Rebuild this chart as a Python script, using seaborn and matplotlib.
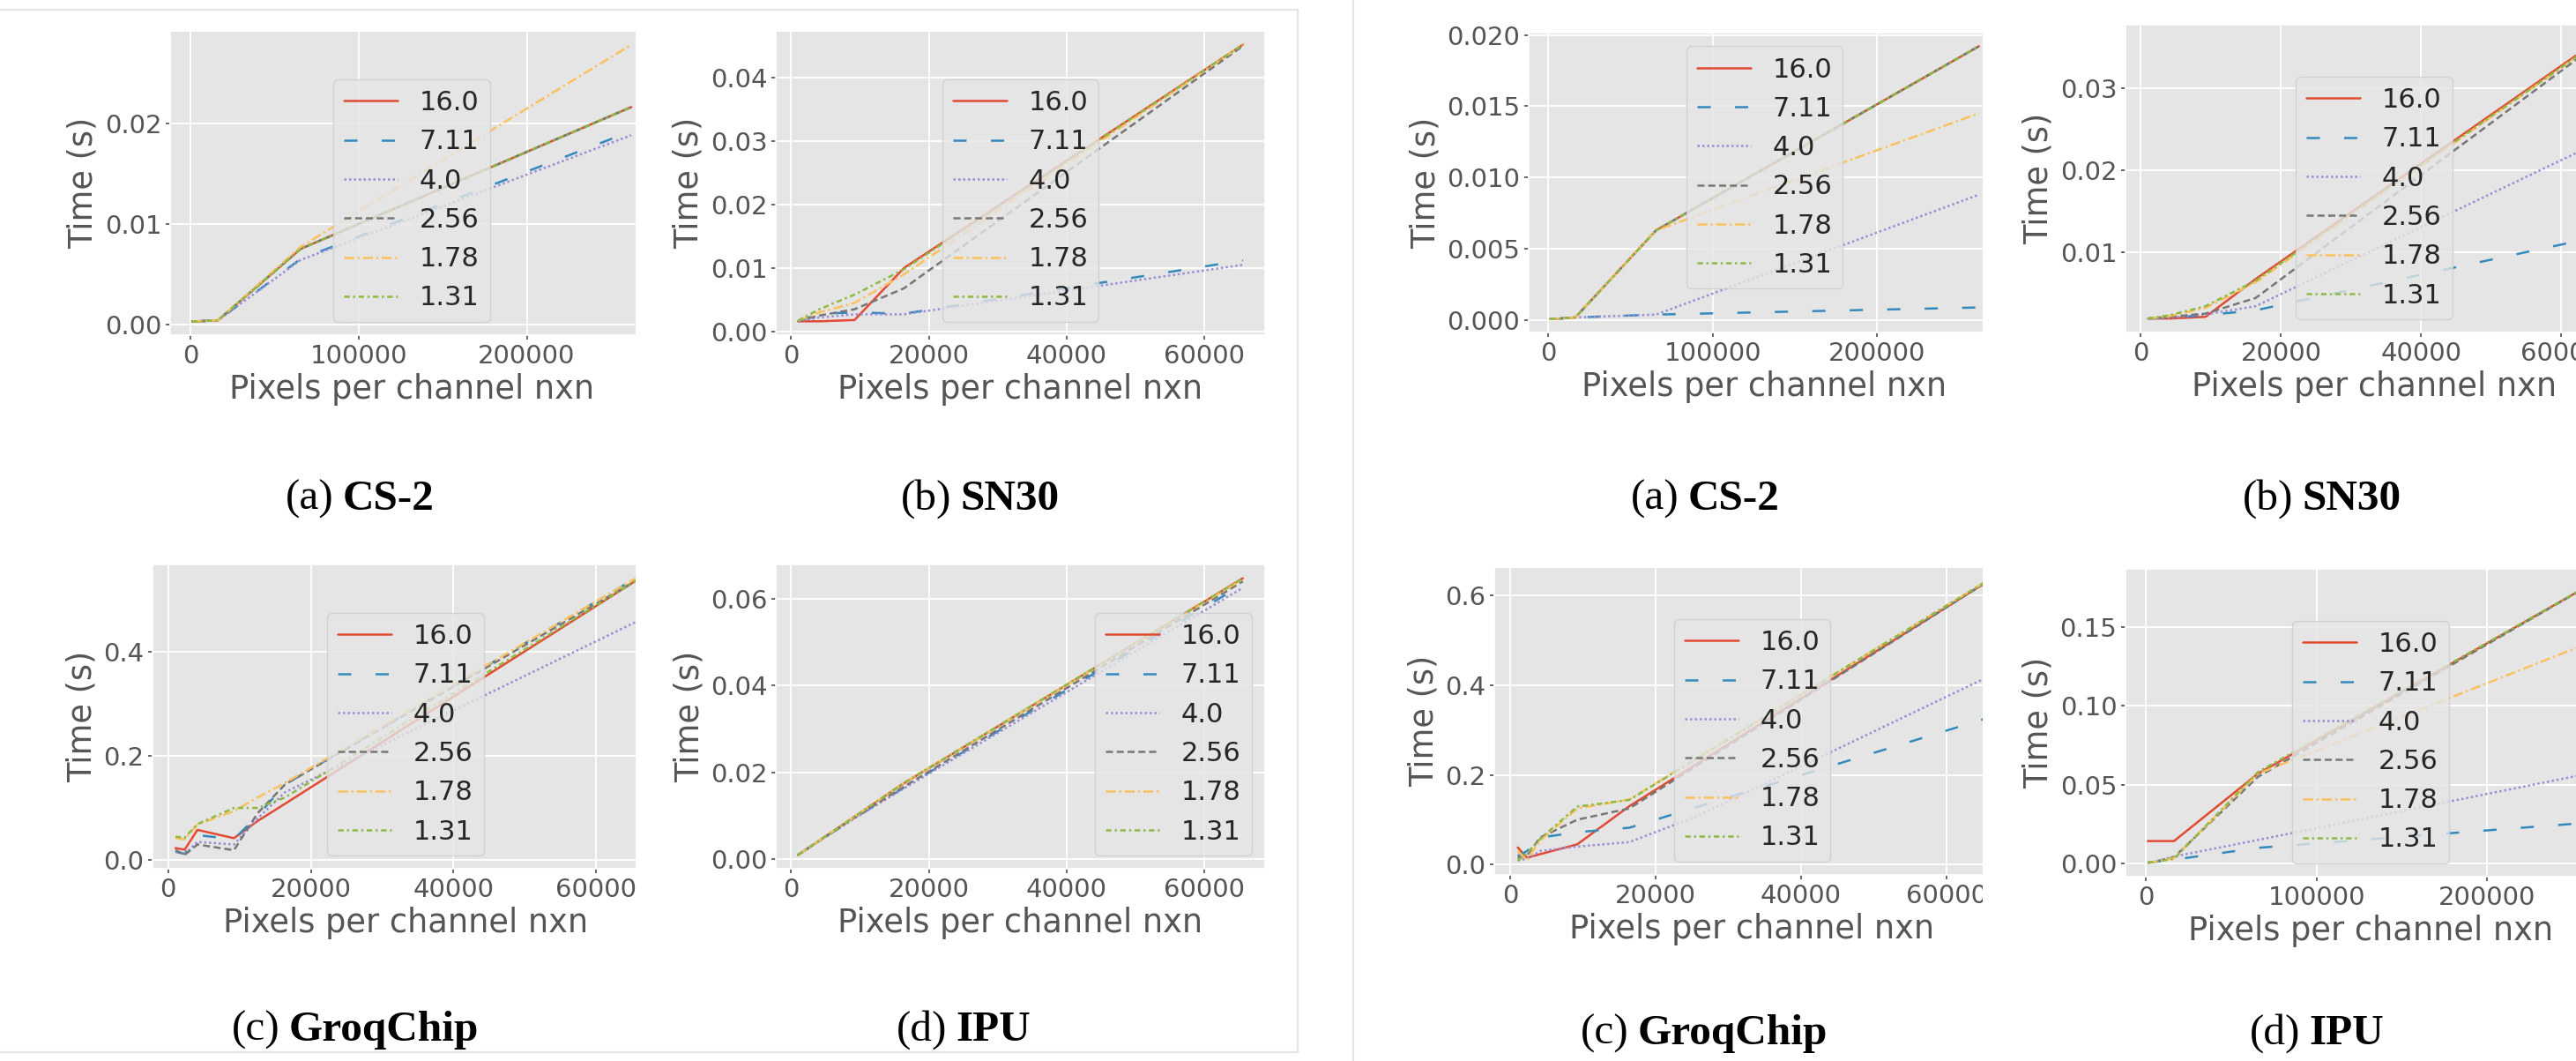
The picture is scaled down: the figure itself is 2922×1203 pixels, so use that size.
import pandas as pd
import seaborn as sns
import matplotlib.pyplot as plt
from matplotlib.patches import Rectangle
from matplotlib.lines import Line2D
from matplotlib.ticker import MultipleLocator

# legend entries (same order / colours as the ggplot colour cycle)
ratios = ['16.0', '7.11', '4.0', '2.56', '1.78', '1.31']
colors = ['#E24A33', '#348ABD', '#988ED5', '#777777', '#FBC15E', '#8EBA42']
dash_styles = ['', (6, 11), (1, 1.2), (3.2, 1.7), (4.5, 1.5, 1, 1.5), (2.5, 1.5, 1, 1.5)]

NAN = float('nan')

# ---- left figure ----
x_cs2_l = [1024, 4096, 16384, 65536, 262144]
t_cs2_l = [
    [0.0003, 0.0003, 0.0004, 0.0075, 0.0216],
    [0.0003, 0.0003, 0.0004, 0.0065, 0.0192],
    [0.0003, 0.0003, 0.0004, 0.0064, 0.0188],
    [0.0003, 0.0003, 0.0004, 0.0075, 0.0216],
    [0.0003, 0.0003, 0.0004, 0.0077, 0.0278],
    [0.0003, 0.0003, 0.0004, 0.0075, 0.0216],
]

x_sn30_l = [1024, 4096, 9216, 16384, 65536]
t_sn30_l = [
    [0.0016, 0.0016, 0.0018, 0.0100, 0.0452],
    [0.0016, 0.0028, 0.0030, 0.0028, 0.0112],
    [0.0016, 0.0022, 0.0027, 0.0027, 0.0105],
    [0.0017, 0.0025, 0.0035, 0.0068, 0.0450],
    [0.0017, 0.0030, 0.0045, 0.0090, 0.0452],
    [0.0017, 0.0035, 0.0058, 0.0098, 0.0452],
]

x_groq_l = [1024, 2304, 4096, 9216, 12544, 16384, 65536]
t_groq_l = [
    [0.023, 0.020, 0.058, 0.042, 0.075, 0.108, 0.535],
    [0.016, 0.012, 0.048, 0.040, 0.085, 0.145, 0.540],
    [0.018, 0.012, 0.035, 0.030, 0.080, 0.130, 0.456],
    [0.019, 0.010, 0.030, 0.019, 0.090, 0.145, 0.535],
    [0.042, 0.040, 0.068, 0.094, 0.120, 0.148, 0.540],
    [0.045, 0.043, 0.069, 0.100, 0.100, 0.120, 0.535],
]

x_ipu_l = [1024, 4096, 9216, 16384, 65536]
t_ipu_l = [
    [0.0010, 0.0043, 0.0098, 0.0175, 0.0647],
    [0.0010, 0.0042, 0.0095, 0.0165, 0.0633],
    [0.0010, 0.0042, 0.0094, 0.0163, 0.0625],
    [0.0010, 0.0042, 0.0096, 0.0167, 0.0640],
    [0.0010, 0.0043, 0.0098, 0.0176, 0.0645],
    [0.0010, 0.0043, 0.0098, 0.0176, 0.0647],
]

# ---- right figure ----
x_cs2_r = [1024, 4096, 16384, 65536, 262144]
t_cs2_r = [
    [0.0001, 0.0001, 0.0002, 0.0063, 0.0192],
    [0.0001, 0.0001, 0.0002, 0.0004, 0.0009],
    [0.0001, 0.0001, 0.0002, 0.0004, 0.0088],
    [0.0001, 0.0001, 0.0002, 0.0063, 0.0192],
    [0.0001, 0.0001, 0.0002, 0.0063, 0.0145],
    [0.0001, 0.0001, 0.0002, 0.0063, 0.0192],
]

x_sn30_r = [1024, 4096, 9216, 16384, 65536]
t_sn30_r = [
    [0.0020, 0.0020, 0.0022, 0.0068, 0.0360],
    [0.0020, 0.0021, 0.0024, 0.0030, 0.0120],
    [0.0020, 0.0021, 0.0025, 0.0035, 0.0235],
    [0.0020, 0.0022, 0.0026, 0.0045, 0.0356],
    [0.0020, 0.0023, 0.0033, 0.0064, 0.0358],
    [0.0020, 0.0024, 0.0035, 0.0066, 0.0358],
]

x_groq_r = [1024, 2304, 4096, 9216, 16384, 25600, 65536]
t_groq_r = [
    [0.038, 0.015, 0.023, 0.045, 0.130, NAN, 0.630],
    [0.019, 0.030, 0.060, 0.072, 0.082, NAN, 0.326],
    [0.010, 0.012, 0.030, 0.040, 0.050, 0.107, 0.417],
    [0.015, 0.020, 0.060, 0.100, 0.125, NAN, 0.630],
    [0.030, 0.010, 0.053, 0.125, 0.145, NAN, 0.632],
    [0.008, 0.025, 0.057, 0.129, 0.144, NAN, 0.632],
]

x_ipu_r = [1024, 4096, 16384, 65536, 262144]
t_ipu_r = [
    [0.0143, 0.0143, 0.0143, 0.0570, 0.1780],
    [0.0006, 0.0010, 0.0025, 0.0100, 0.0262],
    [0.0006, 0.0010, 0.0045, 0.0150, 0.0577],
    [0.0006, 0.0010, 0.0040, 0.0550, 0.1780],
    [0.0006, 0.0010, 0.0035, 0.0570, 0.1410],
    [0.0006, 0.0010, 0.0030, 0.0580, 0.1780],
]

sns.set_theme(style='darkgrid', rc={
    'axes.facecolor': '#E5E5E5',
    'axes.edgecolor': 'white',
    'axes.labelcolor': '#555555',
    'grid.color': 'white',
    'grid.linewidth': 1.3,
    'xtick.color': '#555555',
    'ytick.color': '#555555',
    'xtick.bottom': True,
    'ytick.left': True,
    'xtick.direction': 'out',
    'ytick.direction': 'out',
    'xtick.major.size': 3.5,
    'ytick.major.size': 3.5,
    'xtick.labelsize': 21,
    'ytick.labelsize': 21,
    'axes.labelsize': 26.5,
    'legend.fontsize': 22,
    'legend.facecolor': 'inherit',
    'legend.edgecolor': '0.8',
    'legend.framealpha': 0.8,
    'lines.linewidth': 1.8,
})

W, H = 2922, 1203
fig = plt.figure(figsize=(W / 100, H / 100), dpi=100)


def frame(xs, ts):
    rows = []
    for r, t in zip(ratios, ts):
        for x, v in zip(xs, t):
            rows.append((x, v, r))
    return pd.DataFrame(rows, columns=['pixels', 'time', 'ratio']).dropna()


def panel(box, xs, ts, loc):
    x0, y0, x1, y1 = box
    ax = fig.add_axes([x0 / W, 1 - y1 / H, (x1 - x0) / W, (y1 - y0) / H])
    sns.lineplot(data=frame(xs, ts), x='pixels', y='time', hue='ratio', style='ratio',
                 hue_order=ratios, style_order=ratios,
                 palette=dict(zip(ratios, colors)), dashes=dict(zip(ratios, dash_styles)),
                 linewidth=1.8, estimator=None, ax=ax)
    ax.set_xlabel('Pixels per channel nxn')
    ax.set_ylabel('Time (s)')
    if max(xs) > 100000:
        ax.xaxis.set_major_locator(MultipleLocator(100000))
    sns.move_legend(ax, loc, title=None, fontsize=22, labelspacing=0.5, frameon=True)
    return ax


# axes boxes in pixels (left, top, right, bottom)
panel((193, 35, 741, 380), x_cs2_l, t_cs2_l, 'lower center')
panel((880, 35, 1435, 380), x_sn30_l, t_sn30_l, 'lower center')
panel((173, 640, 747, 985), x_groq_l, t_groq_l, 'lower center')
panel((880, 640, 1435, 985), x_ipu_l, t_ipu_l, 'lower right')
panel((1734, 37, 2269, 377), x_cs2_r, t_cs2_r, 'upper center')
panel((2411, 28, 2975, 377), x_sn30_r, t_sn30_r, 'lower center')
panel((1695, 643, 2280, 992), x_groq_r, t_groq_r, 'lower center')
panel((2411, 645, 2967, 994), x_ipu_r, t_ipu_r, 'lower center')

# the source images are cropped at the right edge of the first column
for cx0, cy0, cx1, cy1 in [(721, 15, 749, 445), (721, 620, 750, 1050),
                           (2249, 15, 2279, 445), (2249, 620, 2281, 1055)]:
    fig.add_artist(Rectangle((cx0 / W, 1 - cy1 / H), (cx1 - cx0) / W, (cy1 - cy0) / H,
                             transform=fig.transFigure, facecolor='white',
                             edgecolor='none', zorder=10))

# faint borders of the two figure images
border = '#E4E4E4'
for (ax0, ay0), (ax1, ay1) in [((0, 11), (1472, 11)), ((1472, 11), (1472, 1193)),
                               ((0, 1193), (1472, 1193)), ((1535, 0), (1535, 1203))]:
    fig.add_artist(Line2D([ax0 / W, ax1 / W], [1 - ay0 / H, 1 - ay1 / H],
                          transform=fig.transFigure, color=border, lw=1.5))

# sub-captions: "(a)" regular, name bold
captions = [('(a)', 'CS-2', 408, 566), ('(b)', 'SN30', 1112, 566),
            ('(c)', 'GroqChip', 403, 1168), ('(d)', 'IPU', 1093, 1168),
            ('(a)', 'CS-2', 1934, 566), ('(b)', 'SN30', 2634, 566),
            ('(c)', 'GroqChip', 1933, 1172), ('(d)', 'IPU', 2628, 1172)]
pairs = []
for tag, name, cx, cy in captions:
    t1 = fig.text(0, 1 - cy / H, tag, fontsize=35.5, family='Liberation Serif',
                  ha='left', va='center', color='black')
    t2 = fig.text(0, 1 - cy / H, name, fontsize=35.5, family='Liberation Serif',
                  weight='bold', ha='left', va='center', color='black')
    pairs.append((t1, t2, cx))

fig.canvas.draw()
renderer = fig.canvas.get_renderer()
gap = 10
for t1, t2, cx in pairs:
    w1 = t1.get_window_extent(renderer).width
    w2 = t2.get_window_extent(renderer).width
    start = cx - (w1 + gap + w2) / 2
    t1.set_x(start / W)
    t2.set_x((start + w1 + gap) / W)

fig.savefig('out.png', dpi=100)
